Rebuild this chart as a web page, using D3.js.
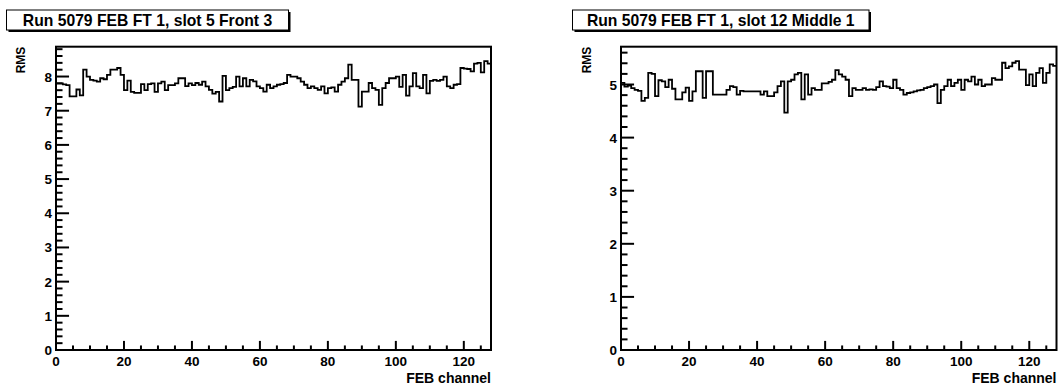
<!DOCTYPE html>
<html>
<head>
<meta charset="utf-8">
<script src="https://cdn.jsdelivr.net/npm/d3@7"></script>
<style>
  body { margin: 0; background: #fff; }
  svg { display: block; }
  text { font-family: "Liberation Sans", Arial, Helvetica, sans-serif; font-weight: bold; fill: #000; }
</style>
</head>
<body>
<svg id="chart" width="1059" height="391"></svg>
<script>
// Per-channel RMS noise, 128 channels per FEB
const channelCount = 128;

const front3Rms = [
  7.80, 7.80, 7.77, 7.75, 7.42, 7.42, 7.62, 7.45, 8.20, 8.00,
  7.90, 7.88, 7.85, 7.95, 7.92, 8.05, 8.20, 8.20, 8.25, 8.05,
  7.60, 7.88, 7.55, 7.52, 7.52, 7.78, 7.60, 7.78, 7.80, 7.55,
  7.80, 7.85, 7.60, 7.75, 7.75, 7.80, 7.95, 7.95, 7.72, 7.80,
  7.75, 7.81, 7.76, 7.85, 7.71, 7.61, 7.50, 7.55, 7.27, 8.02,
  7.60, 7.66, 7.70, 8.00, 7.71, 7.95, 7.71, 7.90, 7.86, 7.71,
  7.66, 7.56, 7.76, 7.66, 7.71, 7.76, 7.78, 7.81, 8.05, 8.00,
  8.00, 7.95, 7.85, 7.76, 7.66, 7.71, 7.66, 7.61, 7.71, 7.51,
  7.66, 7.68, 7.56, 7.76, 7.85, 7.95, 8.35, 7.90, 7.90, 7.12,
  7.56, 7.56, 7.81, 7.66, 7.61, 7.17, 7.66, 7.81, 7.95, 7.95,
  8.00, 7.70, 8.05, 7.44, 7.71, 8.10, 7.71, 7.66, 8.05, 7.51,
  7.87, 7.90, 7.87, 7.90, 8.00, 7.71, 7.66, 7.76, 7.78, 8.25,
  8.23, 8.22, 8.15, 8.38, 8.40, 8.12, 8.45, 8.38
];

const middle1Rms = [
  5.03, 4.96, 4.98, 4.93, 4.90, 4.88, 4.69, 4.75, 5.22, 5.20,
  4.78, 5.08, 5.06, 4.95, 5.09, 4.92, 4.72, 4.72, 4.85, 4.94,
  4.69, 4.87, 5.25, 5.25, 4.75, 5.25, 5.25, 4.81, 4.81, 4.81,
  4.81, 4.90, 4.97, 4.95, 4.81, 4.88, 4.87, 4.87, 4.87, 4.87,
  4.87, 4.81, 4.87, 4.78, 4.78, 4.85, 4.97, 5.06, 4.47, 5.06,
  5.09, 5.19, 5.22, 4.72, 5.19, 4.81, 4.93, 4.90, 4.90, 5.02,
  5.02, 5.05, 5.09, 5.27, 5.19, 5.15, 5.09, 4.78, 4.93, 4.90,
  4.90, 4.93, 4.90, 4.91, 4.90, 4.95, 5.06, 4.97, 4.96, 4.93,
  5.09, 4.93, 4.90, 4.81, 4.84, 4.85, 4.87, 4.89, 4.90, 4.93,
  4.95, 4.97, 5.00, 4.65, 4.90, 4.97, 5.09, 4.97, 5.03, 5.09,
  4.90, 5.09, 5.06, 5.15, 5.00, 5.09, 4.97, 5.00, 5.00, 5.12,
  5.09, 5.09, 5.41, 5.31, 5.34, 5.41, 5.44, 5.28, 5.28, 4.99,
  5.19, 4.97, 5.22, 5.31, 5.03, 5.22, 5.38, 5.35
];

const panelTitles = ["Run 5079 FEB FT 1, slot 5 Front 3", "Run 5079 FEB FT 1, slot 12 Middle 1"];
const xTickLabels = [0, 20, 40, 60, 80, 100, 120];
const front3YTicks = [0, 1, 2, 3, 4, 5, 6, 7, 8];
const middle1YTicks = [0, 1, 2, 3, 4, 5];
const xAxisTitle = "FEB channel";
const yAxisTitle = "RMS";

const svg = d3.select("#chart");

const panels = [
  { values: front3Rms, title: panelTitles[0], yTicks: front3YTicks,
    frame: { left: 56, right: 491, top: 46.7, bottom: 350 },
    titleBox: { x: 6.5, y: 10, w: 282, h: 20 }, yTitleX: 25 },
  { values: middle1Rms, title: panelTitles[1], yTicks: middle1YTicks,
    frame: { left: 621, right: 1056.5, top: 46.7, bottom: 350 },
    titleBox: { x: 572.5, y: 10, w: 296.5, h: 20 }, yTitleX: 590.5 }
];

panels.forEach(p => drawPanel(p));

function drawPanel(p) {
  const f = p.frame;
  const g = svg.append("g");

  const x = d3.scaleLinear().domain([0, channelCount]).range([f.left, f.right]);
  const yMax = 1.05 * d3.max(p.values);
  const y = d3.scaleLinear().domain([0, yMax]).range([f.bottom, f.top]);

  // histogram outline
  const pts = p.values.map((v, i) => [i, v]);
  pts.push([channelCount, p.values[channelCount - 1]]);
  const line = d3.line()
    .x(d => x(d[0]))
    .y(d => y(d[1]))
    .curve(d3.curveStepAfter);
  g.append("path")
    .attr("d", line(pts))
    .attr("fill", "none")
    .attr("stroke", "#000")
    .attr("stroke-width", 1.8);

  // frame
  g.append("rect")
    .attr("x", f.left).attr("y", f.top)
    .attr("width", f.right - f.left).attr("height", f.bottom - f.top)
    .attr("fill", "none").attr("stroke", "#000").attr("stroke-width", 2);

  const plotW = f.right - f.left;
  const plotH = f.bottom - f.top;

  // x axis: major ticks every 20, minor every 5
  const xMajorLen = 0.03 * plotH;
  const xMinor = d3.range(0, channelCount + 0.001, 5);
  g.selectAll(null).data(xMinor).enter().append("line")
    .attr("x1", d => x(d)).attr("x2", d => x(d))
    .attr("y1", f.bottom)
    .attr("y2", d => f.bottom - (d % 20 === 0 ? xMajorLen : xMajorLen / 2))
    .attr("stroke", "#000").attr("stroke-width", 2);
  g.selectAll(null).data(xTickLabels).enter().append("text")
    .attr("x", d => x(d)).attr("y", f.bottom + 15.5)
    .attr("text-anchor", "middle").attr("font-size", 13.5)
    .text(d => d);

  // y axis: major ticks every 1, minor every 0.2
  const yMajorLen = 0.03 * plotW;
  const yMinor = d3.range(0, Math.floor(yMax * 5) + 1).map(k => k / 5);
  g.selectAll(null).data(yMinor).enter().append("line")
    .attr("x1", f.left)
    .attr("x2", (d, i) => f.left + (i % 5 === 0 ? yMajorLen : yMajorLen / 2))
    .attr("y1", d => y(d)).attr("y2", d => y(d))
    .attr("stroke", "#000").attr("stroke-width", 2);
  g.selectAll(null).data(p.yTicks).enter().append("text")
    .attr("x", f.left - 4).attr("y", d => y(d) + 5)
    .attr("text-anchor", "end").attr("font-size", 13.5)
    .text(d => d);

  // axis titles
  g.append("text")
    .attr("x", f.right).attr("y", f.bottom + 33)
    .attr("text-anchor", "end").attr("font-size", 14)
    .text(xAxisTitle);
  g.append("text")
    .attr("transform", `translate(${p.yTitleX},${f.top}) rotate(-90)`)
    .attr("text-anchor", "end").attr("font-size", 12)
    .text(yAxisTitle);

  // title box with shadow
  const b = p.titleBox;
  g.append("rect")
    .attr("x", b.x + 2).attr("y", b.y + 2)
    .attr("width", b.w).attr("height", b.h)
    .attr("fill", "#000");
  g.append("rect")
    .attr("x", b.x).attr("y", b.y)
    .attr("width", b.w).attr("height", b.h)
    .attr("fill", "#fff").attr("stroke", "#000").attr("stroke-width", 1);
  g.append("text")
    .attr("x", b.x + b.w / 2).attr("y", b.y + 16)
    .attr("text-anchor", "middle").attr("font-size", 15.7)
    .text(p.title);
}
</script>
</body>
</html>
